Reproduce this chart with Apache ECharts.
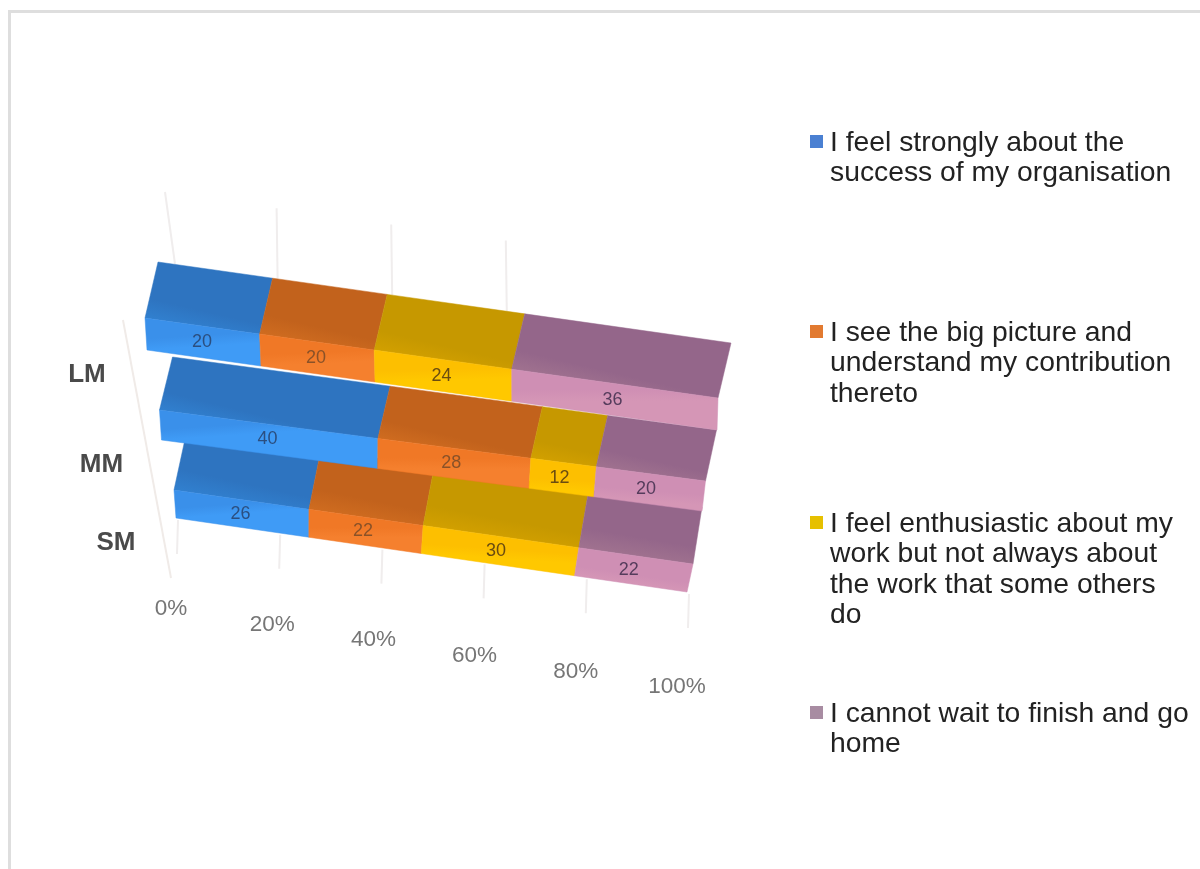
<!DOCTYPE html>
<html>
<head>
<meta charset="utf-8">
<style>html,body{margin:0;padding:0;background:#fff}#c{width:1200px;height:869px;filter:blur(0.6px)}</style>
<script src="https://cdn.jsdelivr.net/npm/echarts@6/dist/echarts.min.js"></script>
</head>
<body>
<div id="c"></div>
<script>
const categories = ['LM', 'MM', 'SM'];
const tickLabels = ['0%', '20%', '40%', '60%', '80%', '100%'];
const tickValues = [0, 20, 40, 60, 80, 100];
const feelStrongly = [20, 40, 26];
const bigPicture = [20, 28, 22];
const enthusiastic = [24, 12, 30];
const cannotWait = [36, 20, 22];
const seriesNames = [
  'I feel strongly about the\nsuccess of my organisation',
  'I see the big picture and\nunderstand my contribution\nthereto',
  'I feel enthusiastic about my\nwork but not always about\nthe work that some others\ndo',
  'I cannot wait to finish and go\nhome'
];
const seriesValues = [feelStrongly, bigPicture, enthusiastic, cannotWait];

const palette = [
  {top: ['#2e74c0', '#3180cf'], front: ['#3a90ea', '#3f9bf6'], swatch: '#4a80d2', text: '#2b4f80'},
  {top: ['#c2621c', '#cf6c20'], front: ['#f07826', '#f5802e'], swatch: '#e27a30', text: '#8a5228'},
  {top: ['#c69800', '#d2a000'], front: ['#fdbf00', '#ffc800'], swatch: '#e6c000', text: '#6a4c10'},
  {top: ['#94668a', '#a0728f'], front: ['#cf8fb4', '#d596b6'], swatch: '#a88ca2', text: '#553c5c'}
];

const G = {left: 147, top: 266, width: 570, height: 252};
const band = G.height / categories.length;
const lerp = (a, b, t) => a + (b - a) * t;

// Oblique projection of the grid plane: the flat grid is sheared into the tilted 3D view.
function plane(gx, gy) {
  const t = (gx - G.left) / G.width;
  const r = (gy - (G.top + band)) / band;
  return {
    t, r,
    x: lerp(G.left + 14.5 * r, G.left + G.width - 15 * r, t),
    y: lerp(G.top + band + 84 * r + 6 * r * (2 - r), 430 + 81 * r, t)
  };
}
function levels(p) {
  const h = 32 - 2 * p.r;
  const ft = [p.x - 2 + p.t * (3 + 2.5 * p.r), p.y - h];
  const depth = 56 - 3 * p.r - p.t * (1 + p.r) + p.r * (p.r - 1) * 5;
  const back = [ft[0] + 13 - p.t * p.r * 2, ft[1] - depth];
  return {bottom: [p.x, p.y], frontTop: ft, back};
}

function barRender(si) {
  return function (params, api) {
    const start = api.value(0), row = api.value(1), end = api.value(2);
    const a = api.coord([start, row]), b = api.coord([end, row]);
    const offs = band / 2;
    const pa = plane(a[0], a[1] + offs), pb = plane(b[0], b[1] + offs);
    const la = levels(pa), lb = levels(pb);
    const c = palette[si];
    const z = 10 + (categories.length - row) * 10;
    const grad = (p0, p1, cols) => new echarts.graphic.LinearGradient(p0[0], p0[1], p1[0], p1[1],
      [{offset: 0, color: cols[0]}, {offset: 0.65, color: cols[0]}, {offset: 1, color: cols[1]}], true);
    const topFill = grad(la.back, la.frontTop, c.top);
    const frontFill = grad(la.frontTop, la.bottom, c.front);
    const mid = {x: (pa.x + pb.x) / 2, y: (pa.y + pb.y) / 2};
    const h = 32 - 2 * pa.r;
    return {
      type: 'group',
      children: [
        {type: 'polygon', z2: z, shape: {points: [la.back, lb.back, lb.frontTop, la.frontTop]},
         style: {fill: topFill, stroke: c.top[0], lineWidth: 0.5}},
        {type: 'polygon', z2: z + 1, shape: {points: [la.frontTop, lb.frontTop, lb.bottom, la.bottom]},
         style: {fill: frontFill, stroke: c.front[0], lineWidth: 0.5}},
        {type: 'text', z2: z + 2, style: {x: mid.x - 2, y: mid.y - h / 2, text: String(api.value(3)),
          fill: c.text, font: '18px "Liberation Sans", Arial, sans-serif', align: 'center', verticalAlign: 'middle'}}
      ]
    };
  };
}

const barSeries = seriesValues.map((vals, si) => ({
  type: 'custom',
  name: seriesNames[si],
  coordinateSystem: 'cartesian2d',
  renderItem: barRender(si),
  encode: {x: [0, 2], y: 1},
  data: vals.map((v, row) => {
    let s = 0;
    for (let k = 0; k < si; k++) s += seriesValues[k][row];
    return [s, row, s + v, v];
  })
}));

// Walls, floor ticks and tick labels, all located through the axis scale.
const axisSeries = {
  type: 'custom',
  coordinateSystem: 'cartesian2d',
  encode: {x: 0, y: 1},
  data: tickValues.map((v, i) => [v, i]),
  renderItem: function (params, api) {
    const v = api.value(0), i = api.value(1);
    const lastRow = categories.length - 1;
    const topP = api.coord([v, 0]), botP = api.coord([v, lastRow]);
    const lt = levels(plane(topP[0], topP[1] + band / 2));
    const bp = plane(botP[0], botP[1] + band / 2);
    const kids = [];
    const line = (x1, y1, x2, y2) => ({type: 'line', z2: 1,
      shape: {x1, y1, x2, y2}, style: {stroke: '#f0eded', lineWidth: 2}});
    const wallFoot = v === 0 ? 17 : 5, wallHead = v === 0 ? 7 : 4;
    if (v < 80) kids.push(line(lt.back[0] + wallFoot, lt.back[1] + 2, lt.back[0] + wallHead, lt.back[1] - 70));
    kids.push(line(bp.x + 2, bp.y + 2, bp.x + 1, bp.y + 36));
    kids.push({type: 'text', z2: 5, style: {x: bp.x - 5 - 5 * bp.t, y: bp.y + 91 + 4 * bp.t, text: tickLabels[i],
      fill: '#767676', font: '22.5px "Liberation Sans", Arial, sans-serif', align: 'center', verticalAlign: 'middle'}});
    return {type: 'group', children: kids};
  }
};

const catSeries = {
  type: 'custom',
  coordinateSystem: 'cartesian2d',
  encode: {x: 0, y: 1},
  data: categories.map((c, i) => [0, i]),
  renderItem: function (params, api) {
    const row = api.value(1);
    const g = api.coord([0, row]);
    const p = plane(g[0], g[1] + band / 2);
    return {type: 'text', z2: 5, style: {x: p.x - 60, y: p.y + 25, text: categories[row],
      fill: '#4a4a4a', font: 'bold 26px "Liberation Sans", Arial, sans-serif', align: 'center', verticalAlign: 'middle'}};
  }
};

const legendTop = [143, 333, 524, 714];
const legendGraphics = [];
seriesNames.forEach((name, i) => {
  legendGraphics.push({type: 'rect', left: 810, top: legendTop[i] - 8, z: 5,
    shape: {width: 13, height: 13}, style: {fill: palette[i].swatch}});
  legendGraphics.push({type: 'text', left: 830, top: legendTop[i] - 15, z: 5,
    style: {text: name, fill: '#222222', font: '28.3px "Liberation Sans", Arial, sans-serif', lineHeight: 30.3}});
});
const frameGraphics = [
  {type: 'rect', left: 8, top: 10, z: 0, shape: {width: 1192, height: 3}, style: {fill: '#dedede'}},
  {type: 'rect', left: 8, top: 10, z: 0, shape: {width: 3, height: 859}, style: {fill: '#dedede'}},
  {type: 'line', z: 0, shape: {x1: 123, y1: 320, x2: 171, y2: 578}, style: {stroke: '#f0ebe8', lineWidth: 2}}
];

const chart = echarts.init(document.getElementById('c'));
chart.setOption({
  animation: false,
  backgroundColor: '#ffffff',
  tooltip: {show: false},
  grid: {left: G.left, top: G.top, width: G.width, height: G.height},
  xAxis: {type: 'value', min: 0, max: 100, interval: 20, show: false},
  yAxis: {type: 'category', data: categories, inverse: true, show: false},
  graphic: frameGraphics.concat(legendGraphics),
  series: [axisSeries, catSeries].concat(barSeries)
});
</script>
</body>
</html>
